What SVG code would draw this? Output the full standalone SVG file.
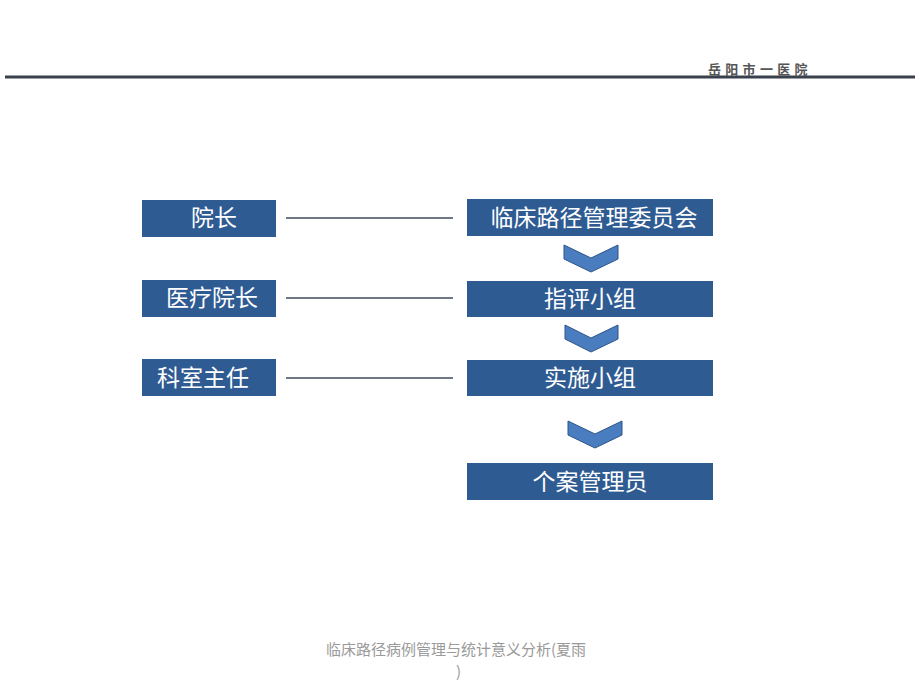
<svg xmlns="http://www.w3.org/2000/svg" width="920" height="690" viewBox="0 0 920 690">
<defs>
<style>
.box{fill:#2f5b93;}
.lbl{font-family:"Noto Sans CJK SC","Noto Sans",sans-serif;font-size:23px;fill:#ffffff;text-anchor:middle;}
.conn{stroke:#3e4b5c;stroke-width:1.5;fill:none;}
.chev{fill:#4a7dbf;stroke:#2d5589;stroke-width:1;}
.foot{font-family:"Noto Sans CJK SC","Noto Sans",sans-serif;font-size:15px;fill:#9a9a9a;}
</style>
</defs>
<rect width="920" height="690" fill="#ffffff"/>
<g id="header">
<line x1="5" y1="77" x2="915" y2="77" stroke="#39414d" stroke-width="3"/>
<text x="708" y="74" font-family="'Noto Sans CJK SC',sans-serif" font-size="13" font-weight="bold" fill="#555555" letter-spacing="4.3">岳阳市一医院</text>
</g>
<g id="connectors">
<line class="conn" x1="286" y1="218" x2="453" y2="218"/>
<line class="conn" x1="286" y1="298" x2="453" y2="298"/>
<line class="conn" x1="286" y1="378" x2="453" y2="378" stroke="#7d8590"/>
<polygon class="chev" points="564,245 591,258 618,245 618,259 591,272 564,259"/>
<polygon class="chev" points="565,325 591,338 618,325 618,339 591,352 565,339"/>
<polygon class="chev" points="568,421 595,434 622,421 622,435 595,448 568,435"/>
</g>
<g id="n-yuanzhang">
<rect class="box" x="142" y="200" width="134" height="37"/>
<text class="lbl" x="214" y="226">院长</text>
</g>
<g id="n-yiliao">
<rect class="box" x="142" y="280" width="134" height="37"/>
<text class="lbl" x="212" y="306">医疗院长</text>
</g>
<g id="n-keshi">
<rect class="box" x="142" y="359" width="134" height="37"/>
<text class="lbl" x="203" y="386">科室主任</text>
</g>
<g id="n-weiyuanhui">
<rect class="box" x="467" y="199" width="246" height="37"/>
<text class="lbl" x="594" y="226">临床路径管理委员会</text>
</g>
<g id="n-zhiping">
<rect class="box" x="467" y="281" width="246" height="36"/>
<text class="lbl" x="590" y="307">指评小组</text>
</g>
<g id="n-shishi">
<rect class="box" x="467" y="360" width="246" height="36"/>
<text class="lbl" x="590" y="386">实施小组</text>
</g>
<g id="n-geanguanli">
<rect class="box" x="467" y="463" width="246" height="37"/>
<text class="lbl" x="590" y="490">个案管理员</text>
</g>
<g id="footer">
<text class="foot" x="326" y="655">临床路径病例管理与统计意义分析(夏雨</text>
<text class="foot" x="456" y="677">)</text>
</g>
</svg>
